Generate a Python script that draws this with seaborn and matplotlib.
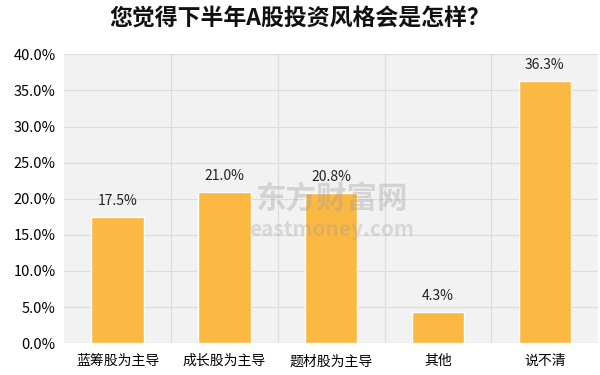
import matplotlib
matplotlib.use("Agg")
import matplotlib.pyplot as plt
import seaborn as sns
import pandas as pd
from matplotlib.ticker import FuncFormatter, MultipleLocator

categories = ["蓝筹股为主导", "成长股为主导", "题材股为主导", "其他", "说不清"]
values = [17.5, 21.0, 20.8, 4.3, 36.3]
title = "您觉得下半年A股投资风格会是怎样？"

sns.set_theme(style="white")
plt.rcParams['font.family'] = ['Noto Sans CJK SC', 'DejaVu Sans']

df = pd.DataFrame({"cat": categories, "val": values})

fig = plt.figure(figsize=(6, 3.75), dpi=100)
ax = fig.add_axes([0.107, 0.085, 0.89, 0.77])
ax.set_facecolor("#F2F2F2")

sns.barplot(data=df, x="cat", y="val", color="#FBB944", width=0.49, ax=ax,
            saturation=1, zorder=3)

ax.set_ylim(0, 40)
ax.set_xlim(-0.5, 4.5)
ax.yaxis.set_major_locator(MultipleLocator(5))
ax.yaxis.set_major_formatter(FuncFormatter(lambda v, p: f"{v:.1f}%"))
ax.grid(axis="y", color="#DCDCDC", linewidth=0.9, zorder=0)
for b in [0.5, 1.5, 2.5, 3.5]:
    ax.axvline(b, color="#DCDCDC", linewidth=0.9, zorder=0)
for s in ax.spines.values():
    s.set_visible(False)
ax.set_xlabel("")
ax.set_ylabel("")
ax.tick_params(axis="both", length=0, labelsize=10.5, colors="#000000", pad=6)
ax.tick_params(axis="x", pad=8, labelsize=10)

for i, v in enumerate(values):
    ax.text(i, v + 1.2, f"{v:.1f}%", ha="center", va="bottom", fontsize=10,
            color="#222222", zorder=5)

# watermark
ax.text(2.0, 20.0, "东方财富网", ha="center", va="center", fontsize=22,
        fontweight="bold", color="#9A9A9A", alpha=0.35, zorder=4)
ax.text(2.0, 15.8, "eastmoney.com", ha="center", va="center", fontsize=15,
        fontweight="bold", color="#9A9A9A", alpha=0.3, zorder=4)

fig.suptitle(title, x=0.5, y=0.98, fontsize=16.5, fontweight="bold", color="#111111")

fig.savefig("out.png", dpi=100, facecolor="white")
